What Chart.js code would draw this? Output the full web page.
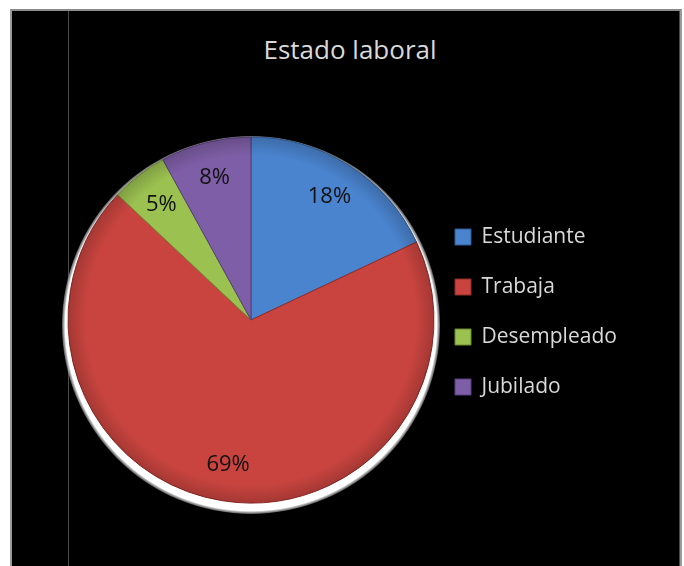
<!DOCTYPE html>
<html lang="es">
<head>
<meta charset="utf-8">
<title>Estado laboral</title>
<script src="https://cdn.jsdelivr.net/npm/chart.js@4.4.1/dist/chart.umd.min.js"></script>
<style>
  html, body { margin: 0; padding: 0; background: #fff; }
  .frame {
    position: absolute; left: 10px; top: 9px; width: 668px; height: 557px;
    background: #000;
    border-top: 2px solid #8a8a8a; border-left: 2px solid #9a9a9a; border-right: 2px solid #9a9a9a;
  }
  .rule { position: absolute; top: 11px; bottom: 0; width: 1px; background: #4a4a4a; }
  .chart-title {
    position: absolute; left: 200px; width: 300px; top: 33px;
    text-align: center; color: #d9d9d9;
    font: 26px/32px 'Open Sans', sans-serif;
  }
  #estadoChart { position: absolute; left: 0; top: 0; }
</style>
</head>
<body>
<div class="frame"></div>
<div class="rule" style="left:68px"></div>
<div class="rule" style="left:679px"></div>
<div class="chart-title">Estado laboral</div>
<canvas id="estadoChart" width="684" height="566"></canvas>
<script>
const categories = ['Estudiante', 'Trabaja', 'Desempleado', 'Jubilado'];
const shares = [18, 69, 5, 8];
const sliceColors = ['#4a84cf', '#c9443f', '#9bc150', '#7e5ea6'];
const sliceEdges = ['#2f5a94', '#8f2c29', '#6d8a33', '#56407a'];

const legendFont = { family: "'Open Sans', sans-serif", size: 21 };
const legendPad = 29;
const legendBox = 16;

// the legend keeps its natural width (Chart.js adds 10px to a vertical legend),
// so the right padding is what is left after the pie's box (ends at x = 426)
function rightPadding() {
  const c = document.createElement('canvas').getContext('2d');
  c.font = legendFont.size + 'px ' + legendFont.family;
  const widest = Math.max(...categories.map(t => c.measureText(t).width));
  const legendWidth = legendPad + legendBox + legendFont.size / 2 + widest + 10;
  return 684 - 426 - legendWidth;
}

// white glow sitting under the pie, heavier toward the bottom
const pieRim = {
  id: 'pieRim',
  beforeDatasetsDraw(chart) {
    const arc = chart.getDatasetMeta(0).data[0];
    if (!arc) return;
    const { x, y, outerRadius } = arc.getProps(['x', 'y', 'outerRadius'], true);
    const ctx = chart.ctx;
    const cy = y + 5;
    const r = outerRadius + 6;
    const g = ctx.createRadialGradient(x, cy, outerRadius - 10, x, cy, r);
    g.addColorStop(0, '#ffffff');
    g.addColorStop(0.8, '#ffffff');
    g.addColorStop(1, 'rgba(150,150,150,0.6)');
    ctx.save();
    ctx.fillStyle = g;
    ctx.beginPath();
    ctx.arc(x, cy, r, 0, Math.PI * 2);
    ctx.fill();
    ctx.restore();
  }
};

// darken the outer edge a little so the slices look bevelled
const pieShade = {
  id: 'pieShade',
  afterDatasetsDraw(chart) {
    const arc = chart.getDatasetMeta(0).data[0];
    if (!arc) return;
    const { x, y, outerRadius } = arc.getProps(['x', 'y', 'outerRadius'], true);
    const ctx = chart.ctx;
    const g = ctx.createRadialGradient(x, y, outerRadius * 0.9, x, y, outerRadius);
    g.addColorStop(0, 'rgba(0,0,0,0)');
    g.addColorStop(1, 'rgba(0,0,0,0.18)');
    ctx.save();
    ctx.fillStyle = g;
    ctx.beginPath();
    ctx.arc(x, y, outerRadius, 0, Math.PI * 2);
    ctx.fill();
    ctx.restore();
  }
};

const pctLabels = {
  id: 'pctLabels',
  afterDatasetsDraw(chart) {
    const ctx = chart.ctx;
    const meta = chart.getDatasetMeta(0);
    ctx.save();
    ctx.font = "22px 'Open Sans', sans-serif";
    ctx.fillStyle = '#111';
    ctx.textAlign = 'center';
    ctx.textBaseline = 'middle';
    meta.data.forEach((arc, i) => {
      const p = arc.getProps(['x', 'y', 'startAngle', 'endAngle', 'outerRadius'], true);
      const mid = (p.startAngle + p.endAngle) / 2;
      const d = p.outerRadius * 0.8;
      ctx.fillText(shares[i] + '%', p.x + Math.cos(mid) * d, p.y + Math.sin(mid) * d);
    });
    ctx.restore();
  }
};

new Chart(document.getElementById('estadoChart'), {
  type: 'pie',
  data: {
    labels: categories,
    datasets: [{
      data: shares,
      backgroundColor: sliceColors,
      borderColor: sliceEdges,
      borderWidth: 1,
      radius: 183,
      clip: false
    }]
  },
  options: {
    responsive: false,
    animation: false,
    layout: { padding: { top: 197.5, bottom: 123.5, left: 76, right: rightPadding() } },
    plugins: {
      legend: {
        position: 'right',
        align: 'start',
        labels: {
          boxWidth: legendBox,
          boxHeight: legendBox,
          padding: legendPad,
          color: '#d9d9d9',
          font: legendFont
        }
      },
      tooltip: { enabled: false }
    }
  },
  plugins: [pieRim, pieShade, pctLabels]
});
</script>
</body>
</html>
